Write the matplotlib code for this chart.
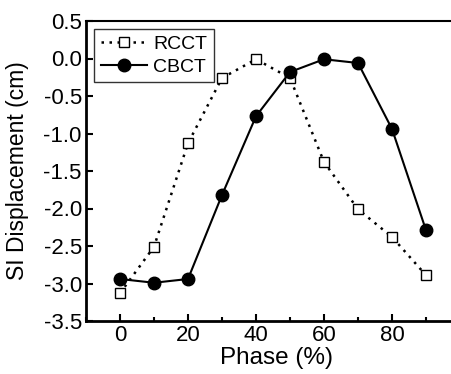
import numpy as np
import matplotlib
matplotlib.use("Agg")
import matplotlib.pyplot as plt
from matplotlib.ticker import MultipleLocator, FormatStrFormatter

plt.rcParams['font.family'] = ['Liberation Sans', 'DejaVu Sans']

# data
phase = [0, 10, 20, 30, 40, 50, 60, 70, 80, 90]
rcct = [-3.13, -2.51, -1.13, -0.26, -0.01, -0.26, -1.38, -2.01, -2.38, -2.89]
cbct = [-2.94, -2.99, -2.94, -1.82, -0.77, -0.18, -0.01, -0.06, -0.94, -2.29]

fig = plt.figure(figsize=(4.51, 3.74), dpi=100)
ax = fig.add_axes([86/451, 1 - 321/374, (451 - 86)/451 + 0.02, 300/374])

ax.plot(phase, rcct, ls=(0, (1, 2.2)), lw=1.8, color='black', marker='s', ms=6.5,
        mfc='white', mec='black', mew=1.0, label='RCCT')
ax.plot(phase, cbct, ls='-', lw=1.5, color='black', marker='o', ms=9,
        mfc='black', mec='black', label='CBCT')

ax.set_xlim(-10, 100)
ax.set_ylim(-3.5, 0.5)
ax.set_xticks([0, 20, 40, 60, 80])
ax.xaxis.set_minor_locator(MultipleLocator(10))
ax.yaxis.set_major_locator(MultipleLocator(0.5))
ax.yaxis.set_major_formatter(FormatStrFormatter('%.1f'))

ax.tick_params(axis='both', which='both', direction='in', labelsize=16,
               right=True, top=False, width=1.5, pad=3)
ax.tick_params(which='major', length=5)
ax.tick_params(which='minor', length=3)
for s in ['left', 'bottom']:
    ax.spines[s].set_linewidth(2)
ax.spines['top'].set_linewidth(1.5)

ax.set_xlabel('Phase (%)', fontsize=17.5)
ax.xaxis.set_label_coords(0.51, -0.088)
ax.set_ylabel('SI Displacement (cm)', fontsize=16.5)
ax.yaxis.set_label_coords(-0.152, 0.5)

leg = ax.legend(loc='upper left', fontsize=14, frameon=True, fancybox=False,
                edgecolor='black', borderpad=0.35, handlelength=2.4,
                handletextpad=0.3, labelspacing=0.25, borderaxespad=0.4)
leg.get_frame().set_linewidth(1.0)

fig.savefig('out.png', dpi=100)
